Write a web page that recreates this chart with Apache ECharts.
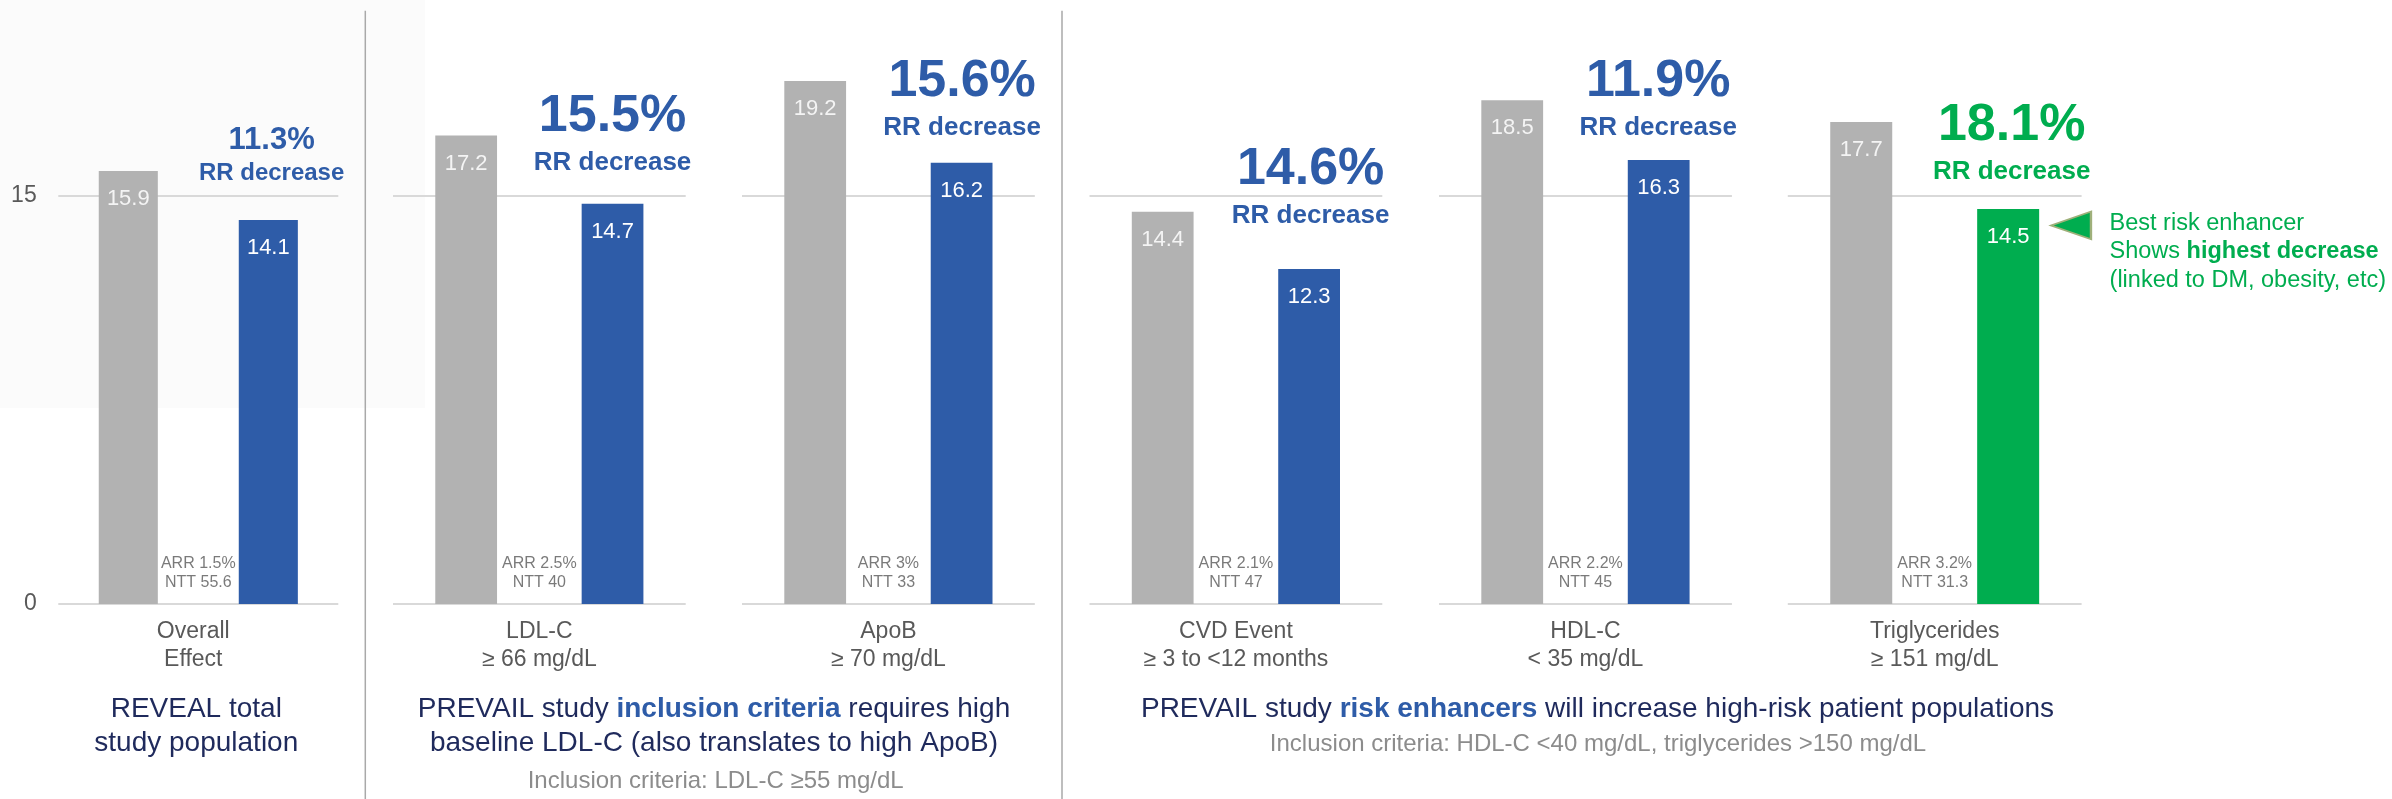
<!DOCTYPE html>
<html>
<head>
<meta charset="utf-8">
<script src="https://cdn.jsdelivr.net/npm/echarts@6/dist/echarts.min.js"></script>
<style>
  html, body { margin: 0; padding: 0; background: #ffffff; }
  #chart { width: 2392px; height: 799px; }
</style>
</head>
<body>
<div id="chart"></div>
<script>
// ---- data ----
const categories = [
  'Overall\nEffect',
  'LDL-C\n≥ 66 mg/dL',
  'ApoB\n≥ 70 mg/dL',
  'CVD Event\n≥ 3 to <12 months',
  'HDL-C\n< 35 mg/dL',
  'Triglycerides\n≥ 151 mg/dL'
];
const controlValues = [15.9, 17.2, 19.2, 14.4, 18.5, 17.7];
const treatedValues = [14.1, 14.7, 16.2, 12.3, 16.3, 14.5];
const rrDecrease = ['11.3%', '15.5%', '15.6%', '14.6%', '11.9%', '18.1%'];
const arrValues = ['1.5%', '2.5%', '3%', '2.1%', '2.2%', '3.2%'];
const nttValues = ['55.6', '40', '33', '47', '45', '31.3'];
const yTickValues = [0, 15];

// ---- layout & style ----
const FONT = '"Liberation Sans", Arial, Helvetica, sans-serif';
const GRAY_BAR = '#b2b2b2';
const BLUE = '#2e5ca8';
const GREEN = '#00ad4f';
const TEXT_GRAY = '#595959';
const NAVY = '#1f2a5c';
const SOFT_GRAY = '#8c8c8c';
const GRID_LINE = '#d9d9d9';

const panelLeft = [58.3, 393, 742, 1089.5, 1439, 1787.8];
const panelWidth = [280, 292.7, 292.8, 292.8, 292.9, 293.8];
const plotTop = 59.3;
const plotHeight = 544.7;           // value axis 0..20
const rrDistance = [32.4, 25.4, 19.9, 37.9, 16.9, 22.2];
const rrShiftX = [3.3, 0, 0.5, 1.5, -0.5, 3.5];
const highlightIndex = 5;

const chart = echarts.init(document.getElementById('chart'), null, { renderer: 'canvas' });

const grids = [], xAxes = [], yAxes = [], series = [];

categories.forEach((cat, i) => {
  const small = i === 0;
  const accent = i === highlightIndex ? GREEN : BLUE;

  grids.push({ left: panelLeft[i], width: panelWidth[i], top: plotTop, height: plotHeight, containLabel: false });

  xAxes.push({
    gridIndex: i,
    type: 'category',
    data: [cat],
    axisLine: { show: false },
    axisTick: { show: false },
    axisLabel: {
      interval: 0, margin: 13, fontSize: 23, lineHeight: 28.4,
      color: TEXT_GRAY, fontFamily: FONT,
      padding: small ? [0, 10, 0, 0] : 0
    }
  });

  yAxes.push({
    gridIndex: i,
    type: 'value',
    min: 0, max: 20, interval: 15,
    axisLine: { show: false },
    axisTick: { show: false },
    splitLine: {
      show: true, showMaxLine: false,
      lineStyle: { color: [GRID_LINE, GRID_LINE, 'rgba(0,0,0,0)'], width: 2 }
    },
    axisLabel: {
      show: i === 0, margin: 21.6, fontSize: 23, color: TEXT_GRAY, fontFamily: FONT,
      showMaxLabel: false,
      formatter: v => (yTickValues.indexOf(v) >= 0 ? String(v) : '')
    }
  });

  const markData = [{ coord: [0, treatedValues[i]] }];
  if (i === highlightIndex) {
    markData.push({
      coord: [0, treatedValues[i]],
      symbol: 'triangle',
      symbolSize: [27.6, 40],
      symbolRotate: 90,
      symbolOffset: [62.8, 16.3],
      itemStyle: { color: GREEN, borderColor: '#9fb07a', borderWidth: 2 },
      label: { show: false }
    });
    markData.push({
      coord: [0, treatedValues[i]],
      symbolSize: 0,
      label: {
        show: true, position: 'right', distance: 0, offset: [101.4, 42.8],
        align: 'left',
        formatter: '{a|Best risk enhancer}\n{a|Shows }{b|highest decrease}\n{a|(linked to DM, obesity, etc)}',
        rich: {
          a: { fontSize: 23.5, lineHeight: 28.7, color: GREEN, fontFamily: FONT },
          b: { fontSize: 23.5, lineHeight: 28.7, color: GREEN, fontFamily: FONT, fontWeight: 'bold' }
        }
      }
    });
  }

  series.push({
    type: 'bar',
    name: 'Control',
    xAxisIndex: i, yAxisIndex: i,
    data: [controlValues[i]],
    barWidth: '21.1%',
    barGap: '137%',
    clip: false,
    silent: true,
    itemStyle: { color: GRAY_BAR },
    label: {
      show: true, position: 'insideTop', distance: 17,
      fontSize: 22, lineHeight: 22, color: '#f4f4f4', fontFamily: FONT
    }
  });

  series.push({
    type: 'bar',
    name: 'Treated',
    xAxisIndex: i, yAxisIndex: i,
    data: [treatedValues[i]],
    barWidth: '21.1%',
    barGap: '137%',
    clip: false,
    silent: true,
    itemStyle: { color: accent },
    label: {
      show: true, position: 'insideTop', distance: 17,
      fontSize: 22, lineHeight: 22, color: '#ffffff', fontFamily: FONT
    },
    markPoint: {
      silent: true,
      animation: false,
      symbol: 'circle',
      symbolSize: 0,
      label: {
        show: true,
        position: 'top',
        distance: rrDistance[i],
        offset: [rrShiftX[i], 0],
        formatter: '{p|' + rrDecrease[i] + '}\n{r|RR decrease}',
        rich: {
          p: { fontSize: small ? 31 : 52, lineHeight: small ? 38.7 : 63.4, fontWeight: 'bold', color: accent, fontFamily: FONT },
          r: { fontSize: small ? 24 : 26, lineHeight: small ? 28 : 30, fontWeight: 'bold', color: accent, fontFamily: FONT }
        }
      },
      data: markData
    }
  });

  series.push({
    type: 'scatter',
    name: 'ARR / NTT',
    xAxisIndex: i, yAxisIndex: i,
    data: [[0, 0]],
    symbolSize: 0,
    silent: true,
    label: {
      show: true, position: 'top', distance: 12.2,
      formatter: 'ARR ' + arrValues[i] + '\nNTT ' + nttValues[i],
      fontSize: 16, lineHeight: 18.5, color: TEXT_GRAY, fontFamily: FONT
    }
  });
});

const richBody = (size, color, weight) => ({ fill: color, color: color, fontSize: size, fontFamily: FONT, fontWeight: weight || 'normal', lineHeight: 33.4 });

const graphic = [
  // faint panel shading behind the upper left area
  { type: 'rect', z: -10, silent: true, shape: { x: 0, y: 0, width: 425, height: 408 }, style: { fill: '#fbfbfb' } },
  // section dividers
  { type: 'line', silent: true, shape: { x1: 365.3, y1: 10.7, x2: 365.3, y2: 799 }, style: { stroke: '#a9a9a9', lineWidth: 1.5 } },
  { type: 'line', silent: true, shape: { x1: 1062, y1: 10.7, x2: 1062, y2: 799 }, style: { stroke: '#a9a9a9', lineWidth: 1.5 } },
  // section captions
  {
    type: 'text', silent: true,
    style: {
      x: 196.3, y: 693, align: 'center', verticalAlign: 'top',
      text: 'REVEAL total\nstudy population',
      fill: NAVY, fontSize: 28, fontFamily: FONT, lineHeight: 33.4
    }
  },
  {
    type: 'text', silent: true,
    style: {
      x: 714, y: 693, align: 'center', verticalAlign: 'top',
      text: '{n|PREVAIL study }{h|inclusion criteria}{n| requires high}\n{n|baseline LDL-C (also translates to high ApoB)}',
      rich: { n: richBody(28, NAVY), h: richBody(28, BLUE, 'bold') }
    }
  },
  {
    type: 'text', silent: true,
    style: {
      x: 715.7, y: 769.4, align: 'center', verticalAlign: 'top',
      text: 'Inclusion criteria: LDL-C ≥55 mg/dL',
      fill: SOFT_GRAY, fontSize: 24, fontFamily: FONT, lineHeight: 24
    }
  },
  {
    type: 'text', silent: true,
    style: {
      x: 1597.5, y: 693, align: 'center', verticalAlign: 'top',
      text: '{n|PREVAIL study }{h|risk enhancers}{n| will increase high-risk patient populations}',
      rich: { n: richBody(28, NAVY), h: richBody(28, BLUE, 'bold') }
    }
  },
  {
    type: 'text', silent: true,
    style: {
      x: 1598, y: 732.7, align: 'center', verticalAlign: 'top',
      text: 'Inclusion criteria: HDL-C <40 mg/dL, triglycerides >150 mg/dL',
      fill: SOFT_GRAY, fontSize: 24, fontFamily: FONT, lineHeight: 24
    }
  }
];

chart.setOption({
  animation: false,
  backgroundColor: '#ffffff',
  textStyle: { fontFamily: FONT },
  grid: grids,
  xAxis: xAxes,
  yAxis: yAxes,
  series: series,
  graphic: graphic
});
</script>
</body>
</html>
